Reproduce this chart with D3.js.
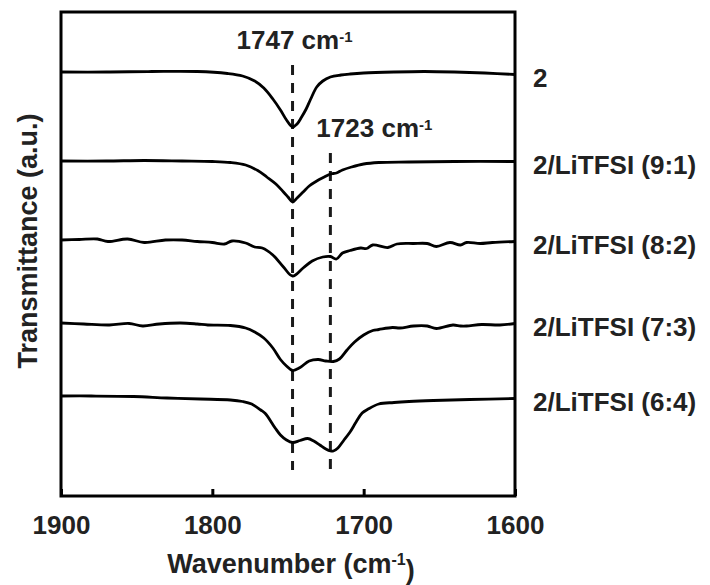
<!DOCTYPE html>
<html>
<head>
<meta charset="utf-8">
<script src="https://cdn.jsdelivr.net/npm/d3@7"></script>
<style>
    body { margin: 0; background: #fff; }
    text { font-family: "Liberation Sans", Arial, sans-serif; font-weight: bold; fill: #222; }
</style>
</head>
<body>
<div id="chart"></div>
<script>
/*global d3*/

// wavenumber (cm-1) / transmittance (a.u., traces stacked with offsets)
var seriesNames = ['2', '2/LiTFSI (9:1)', '2/LiTFSI (8:2)', '2/LiTFSI (7:3)', '2/LiTFSI (6:4)'];

var wn2 = [1900, 1870, 1840, 1810, 1790, 1780, 1772, 1766, 1760, 1755, 1751, 1747, 1744, 1741, 1738, 1735, 1731, 1727, 1722, 1715, 1709, 1700, 1680, 1660, 1640, 1620, 1600];
var t2 = [424, 424, 424.5, 424.5, 422.5, 420, 415, 408, 397, 386, 376, 369, 372, 379, 387, 397, 409, 415, 419, 421, 422, 423, 424, 424.5, 424, 423, 421.5];

var wn91 = [1900, 1870, 1845, 1820, 1800, 1788, 1778, 1770, 1764, 1758, 1753, 1750, 1747, 1744, 1740, 1736, 1731, 1726, 1722, 1720, 1718, 1714, 1708, 1700, 1690, 1670, 1640, 1600];
var t91 = [335, 335, 335.5, 335, 334.5, 333.5, 331, 325.5, 319, 312, 304, 299, 294, 298, 304, 310, 315, 319, 322, 322.5, 323, 326, 329, 332, 333.5, 334, 334.5, 334.5];

var wn82 = [1900, 1888, 1876, 1869, 1856, 1845, 1831, 1820, 1810, 1800, 1792, 1787, 1778, 1775, 1772, 1767, 1760, 1753, 1747, 1740, 1734, 1727, 1722, 1718, 1714, 1709, 1702, 1698, 1694, 1684, 1678, 1667, 1658, 1652, 1643, 1636, 1632, 1623, 1615, 1600];
var t82 = [256, 256.5, 257, 254.5, 257, 253.5, 256, 256, 254.5, 253.5, 252, 255, 253, 251, 249, 248, 241, 229, 220, 228, 235, 239, 239.5, 237, 243, 245.5, 248, 247.5, 251, 248.5, 252, 252.5, 252.5, 249.5, 253.5, 251, 253.5, 252.5, 253.5, 254.5];

var wn73 = [1900, 1885, 1868, 1855, 1846, 1835, 1821, 1810, 1803, 1788, 1778, 1772, 1766, 1760, 1755, 1751, 1747, 1742, 1736, 1730, 1725, 1720, 1716, 1711, 1706, 1700, 1694, 1690, 1681, 1676, 1667, 1658, 1652, 1641, 1636, 1632, 1622, 1610, 1600];
var t73 = [173, 172, 171, 172.5, 170, 172, 173, 172, 171, 170.5, 168, 164, 158, 148, 136.5, 130, 125.5, 128.5, 135, 136.5, 135, 134.5, 137, 146, 154, 161, 165.5, 166.5, 168.5, 168, 170, 170, 167.5, 171, 170, 170, 171.5, 171, 172.5];

var wn64 = [1900, 1880, 1852, 1830, 1808, 1788, 1780, 1774, 1768, 1765, 1758.5, 1755, 1751, 1747, 1742, 1737, 1733, 1729, 1725, 1722, 1720, 1717, 1713, 1709, 1705, 1701, 1697, 1690, 1680, 1670, 1654, 1630, 1600];
var t64 = [100, 100, 99.5, 98, 97, 96, 94.5, 92, 86, 82.5, 68, 61, 56, 53.5, 55.5, 57.5, 55, 51, 47, 45, 45, 48, 56, 64, 74, 83, 87, 92, 93.5, 94.5, 95.5, 96.5, 97.5];

var seriesWn = [wn2, wn91, wn82, wn73, wn64];
var seriesT = [t2, t91, t82, t73, t64];

// peak markers: position, ends of dashed line, label
var peakWn = [1747, 1722];
var peakTop = [431, 343];
var peakBottom = [26, 26];
var peakLabels = ['1747', '1723'];

var xTicks = [1900, 1800, 1700, 1600];

(function () {
    var svgW = 710,
        svgH = 585,
        margin = {top: 12, right: 195, bottom: 89, left: 61},
        width = svgW - margin.left - margin.right,
        height = svgH - margin.top - margin.bottom,
        svg,
        g,
        x,
        y,
        line,
        xAxis,
        peakText,
        xt,
        i;

    svg = d3.select('#chart').append('svg')
        .attr('width', svgW)
        .attr('height', svgH);

    g = svg.append('g')
        .attr('transform', 'translate(' + margin.left + ',' + margin.top + ')');

    x = d3.scaleLinear().domain([1900, 1600]).range([0, width]);
    y = d3.scaleLinear().domain([0, height]).range([height, 0]);

    line = d3.line()
        .x(function (d) { return x(d[0]); })
        .y(function (d) { return y(d[1]); })
        .curve(d3.curveCatmullRom.alpha(0.5));

    // dashed guides behind the traces
    g.selectAll('line.peak')
        .data(peakWn)
        .enter().append('line')
        .attr('class', 'peak')
        .attr('x1', function (d) { return x(d); })
        .attr('x2', function (d) { return x(d); })
        .attr('y1', function (d, j) { return y(peakTop[j]); })
        .attr('y2', function (d, j) { return y(peakBottom[j]); })
        .attr('stroke', '#1a1a1a')
        .attr('stroke-width', 3)
        .attr('stroke-dasharray', '10,8');

    for (i = 0; i < seriesNames.length; i += 1) {
        g.append('path')
            .datum(d3.zip(seriesWn[i], seriesT[i]))
            .attr('d', line)
            .attr('fill', 'none')
            .attr('stroke', '#000')
            .attr('stroke-width', 2.8)
            .attr('stroke-linejoin', 'round');
    }

    // series labels at the right end of each trace
    g.selectAll('text.series')
        .data(seriesNames)
        .enter().append('text')
        .attr('class', 'series')
        .attr('x', width + 18)
        .attr('y', function (d, j) { return y(seriesT[j][seriesT[j].length - 1]) + 3; })
        .attr('dy', '0.35em')
        .style('font-size', '26px')
        .text(function (d) { return d; });

    // peak labels: first one centred on its line, second starts just left of it
    peakText = g.selectAll('text.peaklabel')
        .data(peakWn)
        .enter().append('text')
        .attr('class', 'peaklabel')
        .attr('x', function (d, j) { return j === 0 ? x(d) + 2 : x(d) - 14; })
        .attr('y', function (d, j) { return y(peakTop[j]) - 16; })
        .attr('text-anchor', function (d, j) { return j === 0 ? 'middle' : 'start'; })
        .style('font-size', '26px');
    peakText.append('tspan').text(function (d, j) { return peakLabels[j] + ' cm'; });
    peakText.append('tspan')
        .attr('dy', '-0.5em')
        .style('font-size', '15px')
        .text('-1');

    // frame
    g.append('rect')
        .attr('width', width)
        .attr('height', height)
        .attr('fill', 'none')
        .attr('stroke', '#000')
        .attr('stroke-width', 3);

    xAxis = d3.axisBottom(x)
        .tickValues(xTicks)
        .tickSizeInner(-7)
        .tickSizeOuter(0)
        .tickPadding(20)
        .tickFormat(d3.format('d'));

    g.append('g')
        .attr('transform', 'translate(0,' + height + ')')
        .call(xAxis)
        .call(function (a) {
            a.select('.domain').remove();
            a.selectAll('.tick line').attr('stroke', '#000').attr('stroke-width', 3);
            a.selectAll('.tick text')
                .attr('fill', '#222')
                .style('font-size', '26px')
                .style('font-family', '"Liberation Sans", Arial, sans-serif')
                .style('font-weight', 'bold');
        });

    // axis titles
    xt = svg.append('text')
        .attr('x', margin.left + width / 2 + 3)
        .attr('y', 573)
        .attr('text-anchor', 'middle')
        .style('font-size', '27px');
    xt.append('tspan').text('Wavenumber (cm');
    xt.append('tspan').attr('dy', '-0.5em').style('font-size', '16px').text('-1');
    xt.append('tspan').attr('dy', '0.5em').text(')');

    svg.append('text')
        .attr('transform', 'translate(37,241) rotate(-90)')
        .attr('text-anchor', 'middle')
        .style('font-size', '27px')
        .text('Transmittance (a.u.)');
}());
</script>
</body>
</html>
